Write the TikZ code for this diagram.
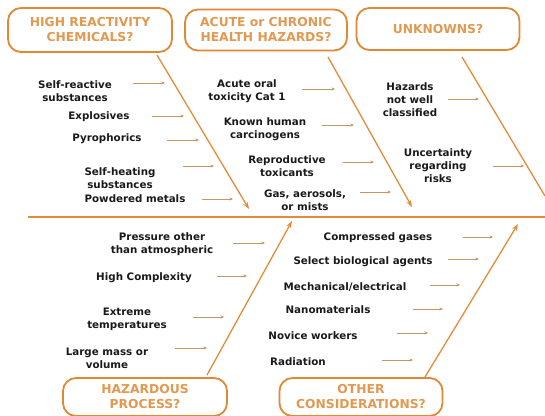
\documentclass[tikz,border=0pt]{standalone}
\usepackage{fontspec}
\setmainfont{DejaVu Sans}
\usetikzlibrary{arrows.meta}
\definecolor{boxline}{RGB}{224,136,52}
\definecolor{boxtext}{RGB}{226,152,80}
\definecolor{bone}{RGB}{226,140,58}
\definecolor{small}{RGB}{196,150,100}
\definecolor{ink}{RGB}{25,25,25}
\tikzset{
  catbox/.style={draw=boxline, line width=1.8pt, rounded corners=13pt, text=boxtext,
    font=\bfseries\fontsize{12.3}{15}\selectfont, align=center, inner sep=0pt},
  lbl/.style={text=ink, font=\bfseries\fontsize{10.3}{13}\selectfont, align=center, inner sep=0pt},
  sarrow/.style={draw=small, line width=0.7pt, -{Stealth[length=3.5pt,width=3pt]}},
  bonearrow/.style={draw=bone, line width=1.3pt, -{Stealth[length=7pt,width=5pt]}},
  boneline/.style={draw=bone, line width=1.3pt},
  spine/.style={draw=bone, line width=1.6pt}
}
\begin{document}
\begin{tikzpicture}[x=1pt,y=-1pt]
\useasboundingbox (0,0) rectangle (545,415);
% category boxes
\node[catbox, minimum width=164pt, minimum height=44pt] (hrc) at (90,30) {HIGH REACTIVITY\\CHEMICALS?};
\node[catbox, minimum width=162pt, minimum height=41pt] (ach) at (266,30) {ACUTE or CHRONIC\\HEALTH HAZARDS?};
\node[catbox, minimum width=163pt, minimum height=42pt] (unk) at (438,29) {UNKNOWNS?};
\node[catbox, minimum width=164pt, minimum height=38pt] (hp) at (145,397) {HAZARDOUS\\PROCESS?};
\node[catbox, minimum width=163pt, minimum height=38pt] (oc) at (361,397) {OTHER\\CONSIDERATIONS?};
% spine
\coordinate (spL) at (28,217);
\coordinate (spR) at (545,217);
\draw[spine] (spL) -- (spR);
% bones
\coordinate (b1s) at (157,55);  \coordinate (b1e) at (249,209);
\coordinate (b2s) at (328,57);  \coordinate (b2e) at (412,207);
\coordinate (b3s) at (462,57);  \coordinate (b3e) at (545,196);
\coordinate (b4s) at (207,375); \coordinate (b4e) at (292,221);
\coordinate (b5s) at (425,377); \coordinate (b5e) at (518,224);
\draw[bonearrow] (b1s) -- (b1e);
\draw[bonearrow] (b2s) -- (b2e);
\draw[boneline] (b3s) -- (b3e);
\draw[bonearrow] (b4s) -- (b4e);
\draw[bonearrow] (b5s) -- (b5e);
% top-left labels
\node[lbl] (l1) at (75,91) {Self-reactive\\substances};
\node[lbl] (l2) at (99,117) {Explosives};
\node[lbl] (l3) at (107,139) {Pyrophorics};
\node[lbl] (l4) at (120,178) {Self-heating\\substances};
\node[lbl] (l5) at (135,199) {Powdered metals};
\coordinate (a1s) at (133,83);  \coordinate (a1e) at (165,83);
\coordinate (a2s) at (152,116); \coordinate (a2e) at (184,116);
\coordinate (a3s) at (167,140); \coordinate (a3e) at (199,140);
\coordinate (a4s) at (183,166); \coordinate (a4e) at (214,166);
\coordinate (a5s) at (202,199); \coordinate (a5e) at (233,199);
\draw[sarrow] (a1s) -- (a1e);
\draw[sarrow] (a2s) -- (a2e);
\draw[sarrow] (a3s) -- (a3e);
\draw[sarrow] (a4s) -- (a4e);
\draw[sarrow] (a5s) -- (a5e);
% top-middle labels
\node[lbl] (m1) at (247,91) {Acute oral\\toxicity Cat 1};
\node[lbl] (m2) at (265,129) {Known human\\carcinogens};
\node[lbl] (m3) at (287,166) {Reproductive\\toxicants};
\node[lbl] (m4) at (305,200) {Gas, aerosols,\\or mists};
\coordinate (c1s) at (302,89);  \coordinate (c1e) at (335,89);
\coordinate (c2s) at (322,125); \coordinate (c2e) at (354,125);
\coordinate (c3s) at (343,162); \coordinate (c3e) at (374,162);
\coordinate (c4s) at (360,192); \coordinate (c4e) at (391,192);
\draw[sarrow] (c1s) -- (c1e);
\draw[sarrow] (c2s) -- (c2e);
\draw[sarrow] (c3s) -- (c3e);
\draw[sarrow] (c4s) -- (c4e);
% top-right labels
\node[lbl] (u1) at (410,100) {Hazards\\not well\\classified};
\node[lbl] (u2) at (438,166) {Uncertainty\\regarding\\risks};
\coordinate (d1s) at (448,99);  \coordinate (d1e) at (479,99);
\coordinate (d2s) at (493,166); \coordinate (d2e) at (524,166);
\draw[sarrow] (d1s) -- (d1e);
\draw[sarrow] (d2s) -- (d2e);
% bottom-left labels
\node[lbl] (p1) at (162,244) {Pressure other\\than atmospheric};
\node[lbl] (p2) at (144,278) {High Complexity};
\node[lbl] (p3) at (127,319) {Extreme\\temperatures};
\node[lbl] (p4) at (107,358) {Large mass or\\volume};
\coordinate (e1s) at (233,243); \coordinate (e1e) at (265,243);
\coordinate (e2s) at (217,276); \coordinate (e2e) at (247,276);
\coordinate (e3s) at (193,317); \coordinate (e3e) at (224,317);
\coordinate (e4s) at (175,348); \coordinate (e4e) at (207,348);
\draw[sarrow] (e1s) -- (e1e);
\draw[sarrow] (e2s) -- (e2e);
\draw[sarrow] (e3s) -- (e3e);
\draw[sarrow] (e4s) -- (e4e);
% bottom-right labels
\node[lbl] (o1) at (378,238) {Compressed gases};
\node[lbl] (o2) at (363,262) {Select biological agents};
\node[lbl] (o3) at (345,287) {Mechanical/electrical};
\node[lbl] (o4) at (328,310) {Nanomaterials};
\node[lbl] (o5) at (313,336) {Novice workers};
\node[lbl] (o6) at (298,362) {Radiation};
\coordinate (f1s) at (463,237); \coordinate (f1e) at (493,237);
\coordinate (f2s) at (448,259); \coordinate (f2e) at (479,259);
\coordinate (f3s) at (430,285); \coordinate (f3e) at (460,285);
\coordinate (f4s) at (413,309); \coordinate (f4e) at (443,309);
\coordinate (f5s) at (397,333); \coordinate (f5e) at (428,333);
\coordinate (f6s) at (382,360); \coordinate (f6e) at (413,360);
\draw[sarrow] (f1s) -- (f1e);
\draw[sarrow] (f2s) -- (f2e);
\draw[sarrow] (f3s) -- (f3e);
\draw[sarrow] (f4s) -- (f4e);
\draw[sarrow] (f5s) -- (f5e);
\draw[sarrow] (f6s) -- (f6e);
\end{tikzpicture}
\end{document}
